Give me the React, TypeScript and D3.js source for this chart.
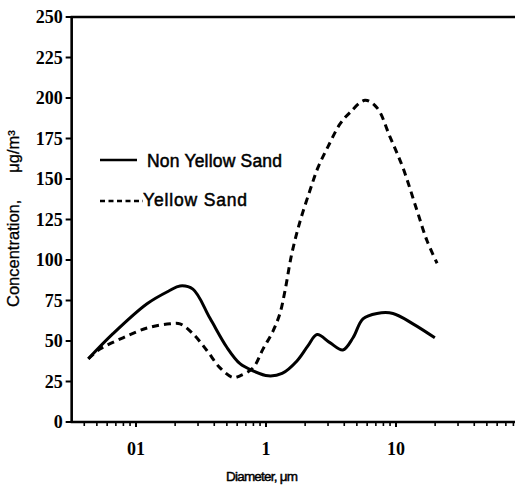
import { useEffect, useRef } from "react"
import * as d3 from "d3"

const nonYellowX = [0.043, 0.0665, 0.1216, 0.18, 0.218, 0.274, 0.371, 0.501, 0.631, 0.794, 1.04, 1.33, 1.73, 2.1, 2.47, 3.1, 3.9, 4.67, 5.57, 7.14, 9.48, 13.5, 19.9]
const nonYellowY = [39, 54.5, 73, 81, 84, 82, 64, 46, 36, 31.6, 28.5, 30, 37.7, 47, 54, 49, 44.5, 52, 63.7, 67, 67, 60.6, 52]

const yellowX = [0.043, 0.0528, 0.0794, 0.1216, 0.183, 0.218, 0.274, 0.352, 0.443, 0.557, 0.631, 0.794, 0.948, 1.13, 1.28, 1.4, 1.58, 1.83, 2.18, 2.51, 3.0, 3.71, 4.42, 5.78, 7.14, 8.99, 11.3, 14.5, 17.3, 20.7]
const yellowY = [39, 45, 52, 58, 60.6, 60.6, 54.5, 44, 33.4, 27.5, 28.5, 33.4, 45, 56, 67, 81, 104, 124, 143, 157, 170, 184, 191, 198.6, 194, 176, 157, 130.6, 112, 98]

const yTicks = [0, 25, 50, 75, 100, 125, 150, 175, 200, 225, 250]
const xTickValues = [0.1, 1, 10]
const xTickLabels = ["01", "1", "10"]
const xMinorTicks = [0.04, 0.05, 0.06, 0.07, 0.08, 0.09, 0.2, 0.3, 0.4, 0.5, 0.6, 0.7, 0.8, 0.9, 2, 3, 4, 5, 6, 7, 8, 9, 20, 30, 40, 50, 60, 70, 80]
const xDomain = [0.032, 90]

const series = [
  { name: "Non Yellow Sand", xs: nonYellowX, ys: nonYellowY, dash: null as string | null },
  { name: "Yellow Sand", xs: yellowX, ys: yellowY, dash: "7,5" },
]

export default function App() {
  const svgRef = useRef<SVGSVGElement>(null)

  useEffect(() => {
    if (!svgRef.current) return
    const W = 515
    const H = 488
    const svg = d3.select(svgRef.current)
    svg.selectAll("*").remove()
    svg.attr("width", W).attr("height", H)

    const x = d3.scaleLog().domain([0.1, 10]).range([136, 396])
    const y = d3.scaleLinear().domain([0, 250]).range([422, 17])

    const serif = "'Liberation Serif', 'Times New Roman', serif"
    const sans = "'Liberation Sans', Arial, sans-serif"

    svg.append("rect").attr("width", W).attr("height", H).attr("fill", "#fff")

    // frame: left axis, bottom axis, top line
    const x0 = x(xDomain[0])
    const x1 = x(xDomain[1])
    svg.append("line").attr("x1", x0).attr("x2", x0).attr("y1", y(250)).attr("y2", y(0))
      .attr("stroke", "#000").attr("stroke-width", 2.6)
    svg.append("line").attr("x1", x0 - 1).attr("x2", x1).attr("y1", y(0)).attr("y2", y(0))
      .attr("stroke", "#000").attr("stroke-width", 2.6)
    svg.append("line").attr("x1", x0 - 1).attr("x2", x1).attr("y1", y(250)).attr("y2", y(250))
      .attr("stroke", "#000").attr("stroke-width", 2.6)

    // y ticks
    const yt = svg.append("g")
    yt.selectAll("line").data(yTicks).join("line")
      .attr("x1", x0 - 6).attr("x2", x0).attr("y1", (d) => y(d)).attr("y2", (d) => y(d))
      .attr("stroke", "#000").attr("stroke-width", 2)
    yt.selectAll("text").data(yTicks).join("text")
      .attr("x", x0 - 9).attr("y", (d) => y(d)).attr("dy", "0.36em")
      .attr("text-anchor", "end")
      .style("font-family", serif).style("font-weight", "bold").style("font-size", "18px")
      .text((d) => String(d))

    // x ticks
    const xt = svg.append("g")
    xt.selectAll("line.minor").data(xMinorTicks).join("line").attr("class", "minor")
      .attr("x1", (d) => x(d)).attr("x2", (d) => x(d)).attr("y1", y(0)).attr("y2", y(0) + 4)
      .attr("stroke", "#000").attr("stroke-width", 1.6)
    xt.selectAll("line.major").data(xTickValues).join("line").attr("class", "major")
      .attr("x1", (d) => x(d)).attr("x2", (d) => x(d)).attr("y1", y(0)).attr("y2", y(0) + 5)
      .attr("stroke", "#000").attr("stroke-width", 2)
    xt.selectAll("text").data(xTickValues).join("text")
      .attr("x", (d) => x(d)).attr("y", 455)
      .attr("text-anchor", "middle")
      .style("font-family", serif).style("font-weight", "bold").style("font-size", "18px")
      .text((_, i) => xTickLabels[i])

    // axis titles
    svg.append("text").attr("x", 262).attr("y", 481).attr("text-anchor", "middle")
      .style("font-family", sans).style("font-size", "13.5px").attr("stroke", "#000").attr("stroke-width", 0.45)
      .attr("textLength", 72)
      .text("Diameter, \u03bcm")

    const yTitle = svg.append("text").attr("transform", "translate(19,307) rotate(-90)")
      .style("font-family", sans).style("font-size", "16.5px").attr("stroke", "#000").attr("stroke-width", 0.3)
    yTitle.append("tspan").text("Concentration,")
    yTitle.append("tspan").attr("dx", 27).text("\u03bcg/m\u00b3")

    // curves
    const line = d3.line<[number, number]>()
      .x((d) => x(d[0]))
      .y((d) => y(d[1]))
      .curve(d3.curveCatmullRom.alpha(0.5))

    series.forEach((s) => {
      const pts = s.xs.map((v, i) => [v, s.ys[i]] as [number, number])
      svg.append("path").attr("d", line(pts)).attr("fill", "none")
        .attr("stroke", "#000").attr("stroke-width", 3)
        .attr("stroke-linecap", "butt")
        .attr("stroke-dasharray", s.dash)
    })

    // legend
    const legend = svg.append("g")
    const rows = [
      { lx1: 100, lx2: 137, ly: 160, tx: 147, ty: 167, width: 135 },
      { lx1: 100, lx2: 143, ly: 201, tx: 143, ty: 206, width: 104 },
    ]
    series.forEach((s, i) => {
      const r = rows[i]
      legend.append("line").attr("x1", r.lx1).attr("x2", r.lx2).attr("y1", r.ly).attr("y2", r.ly)
        .attr("stroke", "#000").attr("stroke-width", 2.6)
        .attr("stroke-dasharray", s.dash ? "5,3.5" : null)
      legend.append("text").attr("x", r.tx).attr("y", r.ty)
        .style("font-family", sans).style("font-size", "17.5px")
        .attr("stroke", "#000").attr("stroke-width", 0.5)
        .attr("textLength", r.width)
        .text(s.name)
    })
  }, [])

  return <svg ref={svgRef} style={{ position: "absolute", left: 0, top: 0, display: "block" }} />
}
